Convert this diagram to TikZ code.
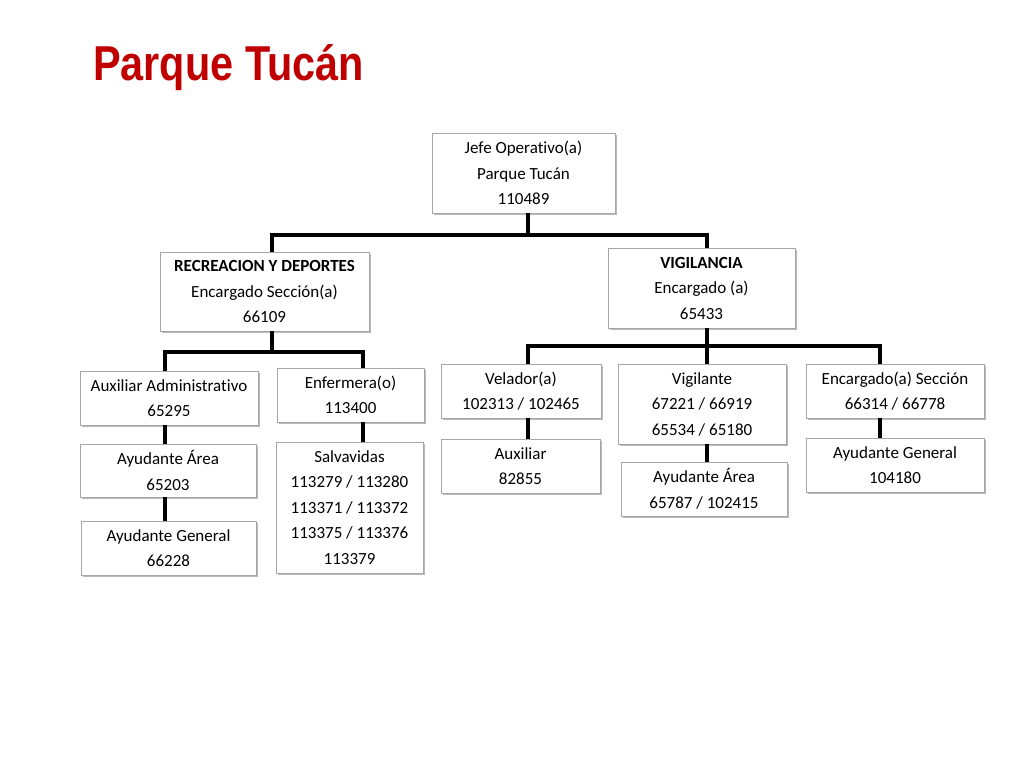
\documentclass[tikz,border=0pt]{standalone}
\usepackage{fontspec}
\setmainfont{Carlito}[Ligatures=NoCommon]
\newfontfamily\titlefont{Liberation Sans}
\usetikzlibrary{shadows}
\definecolor{titlered}{HTML}{C00000}
\tikzset{
    box/.style = {
      draw=black!35, fill=white, align=center, inner sep=0,
      font=\fontsize{17}{25.5}\selectfont,
      drop shadow={shadow xshift=1.5pt, shadow yshift=-1.5pt, fill=black!45, opacity=0.6},
    },
    box size/.style 2 args = {box, minimum width=#1pt, minimum height=#2pt},
    link/.style = {line width=3.5pt, black},
    title/.style = {anchor=base west, text=titlered, inner sep=0,
      font=\titlefont\bfseries\fontsize{49}{49}\selectfont},
}

\begin{document}
\begin{tikzpicture}[x=1pt, y=1pt]
    \useasboundingbox (0,0) rectangle (1024,-768);
    \node [title] (heading) at (93,-80) {\scalebox{0.845}[1]{Parque Tucán}};

    %% Top of the chart and the two sections
    \node [box size={183}{80}] (jefe) at (523.5,-173)
          {Jefe Operativo(a)\\Parque Tucán\\110489};
    \node [box size={209}{79}] (recreacion) at (264.5,-291.5)
          {\textbf{RECREACION Y DEPORTES}\\Encargado Sección(a)\\66109};
    \node [box size={187}{80}] (vigilancia) at (701.5,-288)
          {\textbf{VIGILANCIA}\\Encargado (a)\\65433};

    %% Recreacion y deportes staff
    \node [box size={178}{54}] (auxadmin) at (169,-398)
          {Auxiliar Administrativo\\65295};
    \node [box size={176}{53}] (ayudarea_r) at (168,-470.5)
          {Ayudante Área\\65203};
    \node [box size={175}{54}] (ayudgeneral_r) at (168.5,-548)
          {Ayudante General\\66228};
    \node [box size={147}{54}] (enfermera) at (350.5,-395)
          {Enfermera(o)\\113400};
    \node [box size={147}{131}] (salvavidas) at (349.5,-507.5)
          {Salvavidas\\113279 / 113280\\113371 / 113372\\113375 / 113376\\113379};

    %% Vigilancia staff
    \node [box size={160}{54}] (velador) at (521,-391)
          {Velador(a)\\102313 / 102465};
    \node [box size={159}{54}] (auxiliar) at (520.5,-466)
          {Auxiliar\\82855};
    \node [box size={168}{80}] (vigilante) at (702,-404)
          {Vigilante\\67221 / 66919\\65534 / 65180};
    \node [box size={166}{54}] (ayudarea_v) at (704,-489)
          {Ayudante Área\\65787 / 102415};
    \node [box size={178}{54}] (encseccion) at (895,-391)
          {Encargado(a) Sección\\66314 / 66778};
    \node [box size={178}{54}] (ayudgeneral_v) at (895,-465)
          {Ayudante General\\104180};

    %% Bus lines
    \coordinate (bus_top) at (528,-235);
    \coordinate (bus_rec) at (272,-352);
    \coordinate (bus_rec_l) at (165,-352);
    \coordinate (bus_rec_r) at (363,-352);
    \coordinate (bus_vig) at (707,-346);
    \coordinate (bus_vig_l) at (528,-346);
    \coordinate (bus_vig_r) at (880,-346);

    \draw [link] (jefe.south -| bus_top) -- (bus_top);
    \draw [link] (recreacion.north -| bus_rec) |- (bus_top) -| (vigilancia.north -| bus_vig);

    \draw [link] (recreacion.south -| bus_rec) -- (bus_rec);
    \draw [link] (auxadmin.north -| bus_rec_l) |- (bus_rec) -| (enfermera.north -| bus_rec_r);
    \draw [link] (auxadmin.south -| bus_rec_l) -- (ayudarea_r.north -| bus_rec_l);
    \draw [link] (ayudarea_r.south -| bus_rec_l) -- (ayudgeneral_r.north -| bus_rec_l);
    \draw [link] (enfermera.south -| bus_rec_r) -- (salvavidas.north -| bus_rec_r);

    \draw [link] (vigilancia.south -| bus_vig) -- (vigilante.north -| bus_vig);
    \draw [link] (velador.north -| bus_vig_l) |- (bus_vig) -| (encseccion.north -| bus_vig_r);
    \draw [link] (velador.south -| bus_vig_l) -- (auxiliar.north -| bus_vig_l);
    \draw [link] (vigilante.south -| bus_vig) -- (ayudarea_v.north -| bus_vig);
    \draw [link] (encseccion.south -| bus_vig_r) -- (ayudgeneral_v.north -| bus_vig_r);
\end{tikzpicture}
\end{document}
